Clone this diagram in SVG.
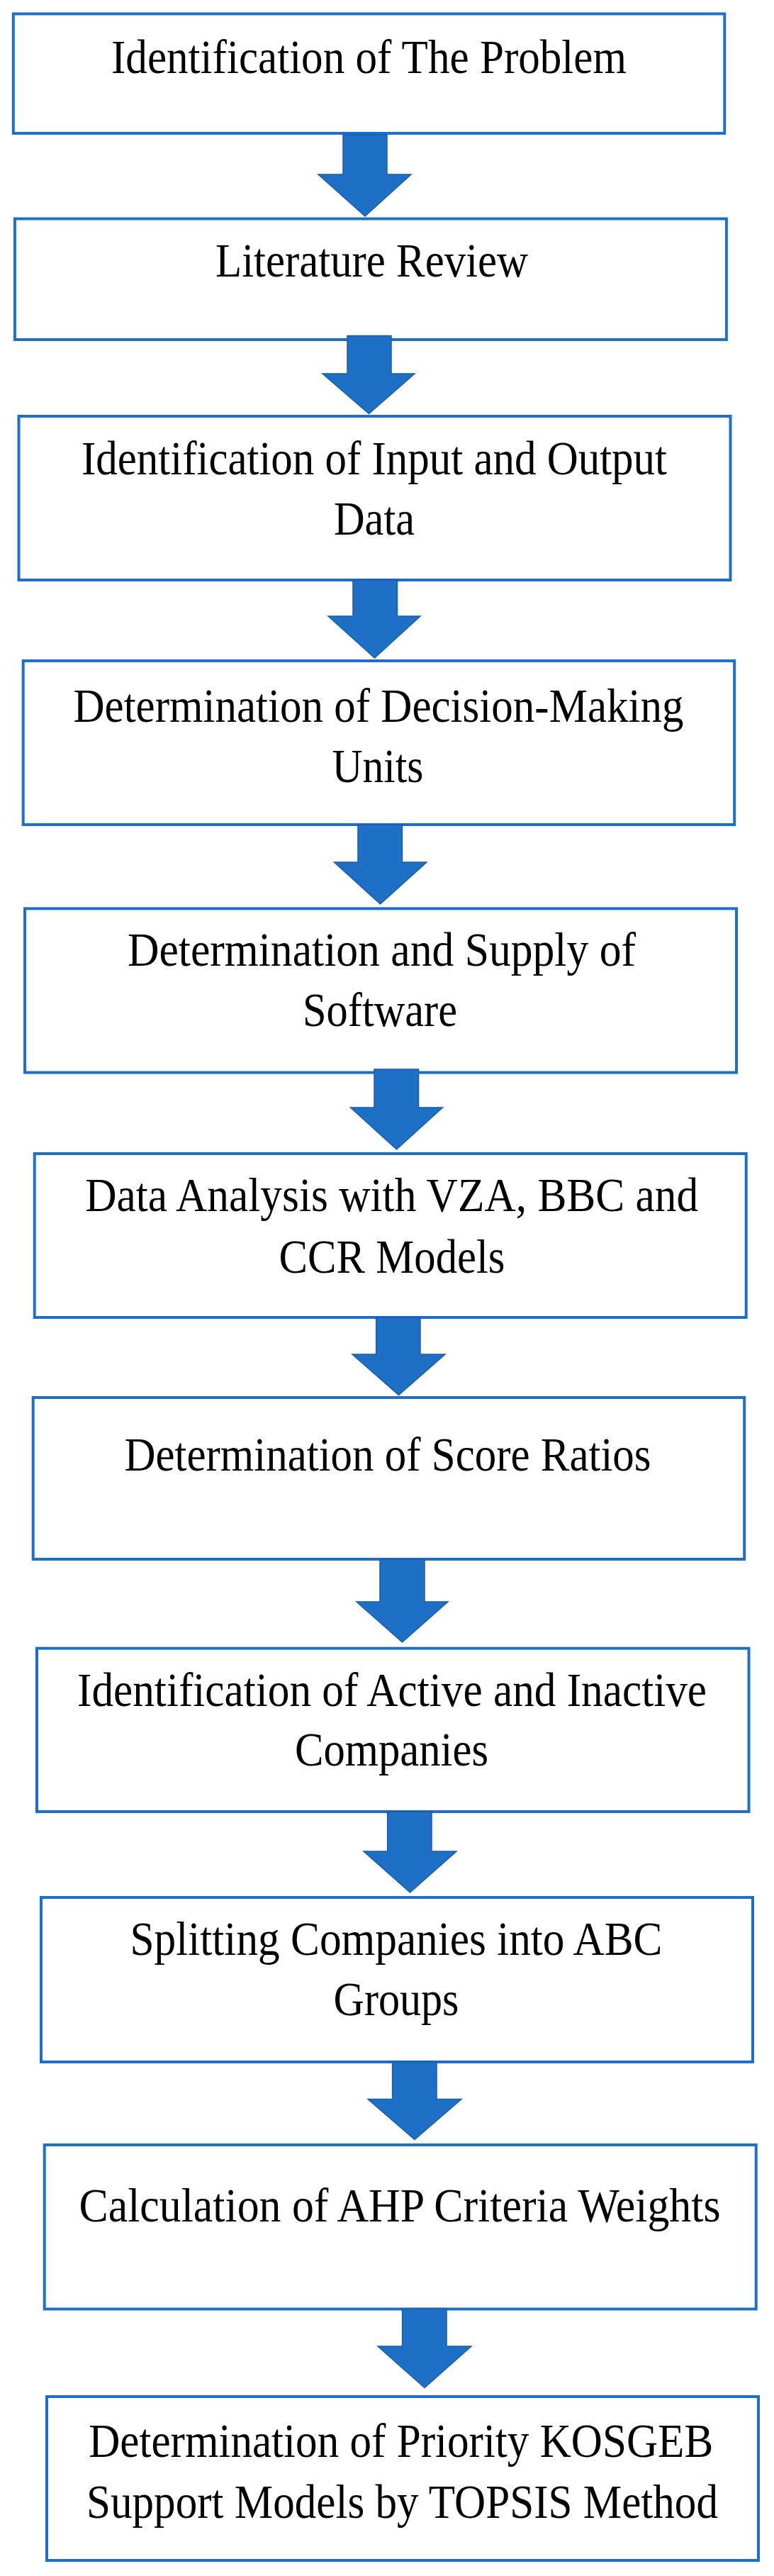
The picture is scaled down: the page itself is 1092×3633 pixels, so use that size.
<svg xmlns="http://www.w3.org/2000/svg" width="1092" height="3633" viewBox="0 0 1092 3633">
<style>
.box{fill:#ffffff;stroke:#1F6FC8;stroke-width:4}
.t{font-family:"Liberation Serif","Times New Roman",serif;font-size:67px;fill:#000000;text-anchor:middle}
.arr{fill:#1E70C6;stroke:#1A5EA9;stroke-width:1.5;stroke-linejoin:miter}
</style>
<rect width="1092" height="3633" fill="#ffffff"/>
<g id="nodes">
<g id="n1"><rect class="box" x="18.8" y="19.5" width="1003.5" height="168.5"/><text class="t" x="520.5" y="103" textLength="727" lengthAdjust="spacingAndGlyphs">Identification of The Problem</text></g>
<g id="n2"><rect class="box" x="20.9" y="308.5" width="1004" height="170.5"/><text class="t" x="524.5" y="390" textLength="441" lengthAdjust="spacingAndGlyphs">Literature Review</text></g>
<g id="n3"><rect class="box" x="26.5" y="587" width="1004" height="231"/><text class="t" x="528" y="668.5" textLength="826" lengthAdjust="spacingAndGlyphs">Identification of Input and Output</text><text class="t" x="528" y="753.5" textLength="114" lengthAdjust="spacingAndGlyphs">Data</text></g>
<g id="n4"><rect class="box" x="32.7" y="932" width="1003.5" height="231"/><text class="t" x="534" y="1018" textLength="861" lengthAdjust="spacingAndGlyphs">Determination of Decision-Making</text><text class="t" x="533" y="1103" textLength="129" lengthAdjust="spacingAndGlyphs">Units</text></g>
<g id="n5"><rect class="box" x="35" y="1281.4" width="1004" height="231.2"/><text class="t" x="538.5" y="1362" textLength="717" lengthAdjust="spacingAndGlyphs">Determination and Supply of</text><text class="t" x="536" y="1447" textLength="218" lengthAdjust="spacingAndGlyphs">Software</text></g>
<g id="n6"><rect class="box" x="48.7" y="1627" width="1004" height="231"/><text class="t" x="552.7" y="1708" textLength="865" lengthAdjust="spacingAndGlyphs">Data Analysis with VZA, BBC and</text><text class="t" x="553" y="1795" textLength="319" lengthAdjust="spacingAndGlyphs">CCR Models</text></g>
<g id="n7"><rect class="box" x="46.7" y="1971" width="1003.5" height="228"/><text class="t" x="547" y="2074" textLength="743" lengthAdjust="spacingAndGlyphs">Determination of Score Ratios</text></g>
<g id="n8"><rect class="box" x="52" y="2324.7" width="1004.5" height="230.3"/><text class="t" x="553" y="2405.5" textLength="888" lengthAdjust="spacingAndGlyphs">Identification of Active and Inactive</text><text class="t" x="552.5" y="2490" textLength="273" lengthAdjust="spacingAndGlyphs">Companies</text></g>
<g id="n9"><rect class="box" x="58" y="2676" width="1004" height="232"/><text class="t" x="559" y="2756.5" textLength="751" lengthAdjust="spacingAndGlyphs">Splitting Companies into ABC</text><text class="t" x="559" y="2842" textLength="177" lengthAdjust="spacingAndGlyphs">Groups</text></g>
<g id="n10"><rect class="box" x="62.7" y="3025" width="1004" height="231.5"/><text class="t" x="564" y="3132.5" textLength="905" lengthAdjust="spacingAndGlyphs">Calculation of AHP Criteria Weights</text></g>
<g id="n11"><rect class="box" x="66" y="3380" width="1004" height="231"/><text class="t" x="565.7" y="3465" textLength="881" lengthAdjust="spacingAndGlyphs">Determination of Priority KOSGEB</text><text class="t" x="567.5" y="3551" textLength="891" lengthAdjust="spacingAndGlyphs">Support Models by TOPSIS Method</text></g>
</g>
<g id="connectors">
<path class="arr" d="M484,190 H546 V246 H580 L515,305 L449,246 H484 Z"/>
<path class="arr" d="M490,473.5 H552 V527 H585 L520.5,583.6 L455,527 H490 Z"/>
<path class="arr" d="M498,818 H560.5 V869 H593 L528.5,928 L463,869 H498 Z"/>
<path class="arr" d="M505,1163 H567.5 V1216 H602 L536.5,1275 L471.5,1216 H505 Z"/>
<path class="arr" d="M528,1508 H590.5 V1562 H624.5 L559.5,1621 L494.5,1562 H528 Z"/>
<path class="arr" d="M530.7,1858 H593 V1910 H628 L562.5,1967.4 L497,1910 H530.7 Z"/>
<path class="arr" d="M536,2199 H599 V2259 H632 L567.5,2316 L503,2259 H536 Z"/>
<path class="arr" d="M546.7,2555 H609 V2611 H644 L578.5,2669 L513,2611 H546.7 Z"/>
<path class="arr" d="M553.6,2908 H616 V2960.5 H651 L585,3017.6 L519,2960.5 H553.6 Z"/>
<path class="arr" d="M567.6,3256 H630 V3309 H665 L599,3367.6 L533,3309 H567.6 Z"/>
</g>
</svg>
